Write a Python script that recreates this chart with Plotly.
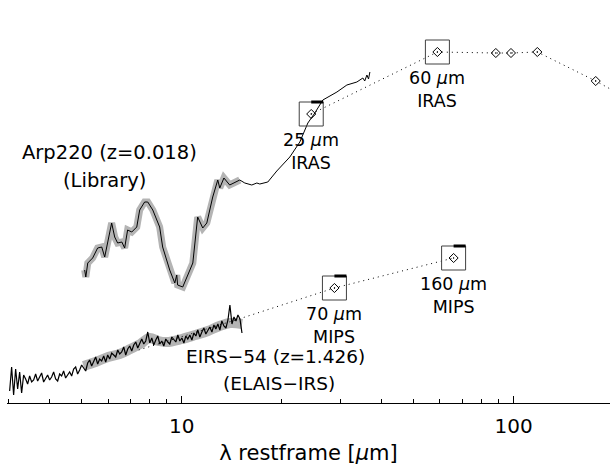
import numpy as np
import plotly.graph_objects as go

# ---------------- data ----------------
# Arp220 library spectrum (rest wavelength in micron, relative log flux)
arp_wl = [5.10, 5.14, 5.21, 5.39, 5.58, 5.74, 5.86, 6.15, 6.28, 6.41, 6.60, 6.73,
          6.87, 7.07, 7.32, 7.47, 7.73, 7.90, 8.18, 8.58, 8.76, 9.20, 9.53, 9.66,
          9.72, 10.07, 10.43, 10.80, 11.17, 11.57, 11.90, 12.40, 12.84, 13.02,
          13.40, 13.95, 14.96, 15.49, 16.26, 16.84, 17.19, 18.17, 19.34, 20.74,
          21.17, 22.69, 23.99, 25.18, 26.62, 29.35, 31.45, 33.71, 35.14, 35.60,
          36.14, 36.55, 36.90]
arp_flux = [133, 126, 140, 145, 155, 156, 146, 180, 166, 160, 161, 155,
            173, 171, 176, 193, 201, 201, 193, 176, 156, 133, 120, 128,
            118, 116, 128, 140, 186, 175, 180, 206, 223, 215,
            225, 218, 223, 220, 218, 220, 219, 221, 232, 243,
            246, 261, 280, 290, 303, 311, 318, 321, 325, 322,
            328, 324, 331]

# EIRS-54 IRS spectrum (rest wavelength in micron, relative log flux)
eirs_wl = [3.030, 3.072, 3.115, 3.159, 3.203, 3.248, 3.293, 3.339, 3.386, 3.433,
           3.481, 3.530, 3.579, 3.629, 3.680, 3.731, 3.783, 3.836, 3.890, 3.944,
           3.999, 4.055, 4.112, 4.169, 4.228, 4.287, 4.347, 4.407, 4.469, 4.532,
           4.595, 4.659, 4.724, 4.790, 4.857, 4.925, 4.994, 5.064, 5.135, 5.207,
           5.279, 5.353, 5.428, 5.504, 5.581, 5.659, 5.738, 5.819, 5.900, 5.983,
           6.067, 6.152, 6.238, 6.325, 6.414, 6.503, 6.594, 6.687, 6.780, 6.875,
           6.971, 7.069, 7.168, 7.268, 7.370, 7.473, 7.578, 7.684, 7.791, 7.900,
           8.011, 8.123, 8.237, 8.352, 8.469, 8.588, 8.708, 8.830, 8.953, 9.079,
           9.206, 9.335, 9.465, 9.598, 9.732, 9.869, 10.01, 10.15, 10.29, 10.43,
           10.58, 10.73, 10.88, 11.03, 11.18, 11.34, 11.50, 11.66, 11.82, 11.99,
           12.15, 12.33, 12.50, 12.67, 12.85, 13.03, 13.21, 13.40, 13.59, 13.78,
           13.97, 14.17, 14.37, 14.57, 14.77, 14.98, 15.19]
eirs_flux = [12, 36, 8, 34, 14, 31, 10, 28, 24, 19,
             27, 21, 23, 29, 22, 26, 30, 21, 25, 28,
             23, 26, 31, 24, 22, 29, 27, 32, 25, 28,
             31, 27, 34, 36, 29, 33, 38, 35, 32, 40,
             43, 37, 41, 46, 39, 44, 42, 47, 41, 48,
             44, 50, 48, 46, 53, 49, 51, 56, 48, 54,
             57, 52, 58, 61, 55, 60, 64, 59, 62, 71,
             60, 65, 58, 63, 67, 59, 62, 57, 64, 61,
             59, 66, 63, 61, 68, 62, 65, 60, 67, 64,
             68, 63, 70, 67, 73, 66, 71, 75, 69, 72,
             76, 71, 78, 74, 79, 73, 82, 77, 75, 83,
             98, 79, 86, 82, 88, 84, 70]

# smoothed envelope of the EIRS-54 spectrum (uncertainty band)
eirs_band_wl = [5.06, 5.5, 6.0, 6.5, 7.0, 7.5, 8.0, 8.5, 9.0, 10.0,
                11.0, 12.0, 13.0, 14.0, 15.2]
eirs_band_flux = [37, 41, 46, 49, 54, 59, 65, 62, 61, 64,
                  68, 72, 77, 80, 79]

# broad-band photometry (rest wavelength, relative log flux)
arp_phot_wl = [24.56, 58.94, 88.4, 98.2, 117.9, 176.8]
arp_phot_flux = [289, 351, 350, 350, 351, 322]
arp_tail_wl = [176.8, 245.6]      # dotted continuation past the plotted range
arp_tail_flux = [322, 296]
arp_boxed = [0, 1]                # IRAS 25 / 60 micron points

eirs_phot_wl = [28.85, 65.95]
eirs_phot_flux = [115, 145]
eirs_trend_wl = [7.42, 15.19]     # dotted continuation through the spectrum
eirs_trend_flux = [53, 85]

band_labels = ["25 <i>μ</i>m<br>IRAS", "60 <i>μ</i>m<br>IRAS",
               "70 <i>μ</i>m<br>MIPS", "160 <i>μ</i>m<br>MIPS"]

x_major = [10, 100]
x_minor = [3, 4, 5, 6, 7, 8, 9, 20, 30, 40, 50, 60, 70, 80, 90, 200]

# ---------------- styling ----------------
FONT = "DejaVu Sans"
GREY_BAND = "#b4b4b4"
BOX_COLOR = "#404040"
BOX_SIZE = 24
DOTTED = "1px,4px"
PX_PER_DEX = 331.6

fig = go.Figure()

# grey bands under the spectra
arp_band = [(w, f) for w, f in zip(arp_wl, arp_flux) if w <= 15.0]
fig.add_trace(go.Scatter(x=[p[0] for p in arp_band], y=[p[1] for p in arp_band],
                         mode="lines", line=dict(color=GREY_BAND, width=7)))
fig.add_trace(go.Scatter(x=eirs_band_wl, y=eirs_band_flux, mode="lines",
                         line=dict(color=GREY_BAND, width=10, shape="spline")))

# dotted SED connections
fig.add_trace(go.Scatter(x=arp_phot_wl + arp_tail_wl[1:],
                         y=arp_phot_flux + arp_tail_flux[1:], mode="lines",
                         line=dict(color="black", width=1, dash=DOTTED)))
fig.add_trace(go.Scatter(x=eirs_trend_wl + eirs_phot_wl,
                         y=eirs_trend_flux + eirs_phot_flux, mode="lines",
                         line=dict(color="black", width=1, dash=DOTTED)))

# spectra
fig.add_trace(go.Scatter(x=arp_wl, y=arp_flux, mode="lines",
                         line=dict(color="black", width=1)))
fig.add_trace(go.Scatter(x=eirs_wl, y=eirs_flux, mode="lines",
                         line=dict(color="black", width=1.2)))

# boxes around the photometric bands
box_wl = [arp_phot_wl[i] for i in arp_boxed] + eirs_phot_wl
box_flux = [arp_phot_flux[i] for i in arp_boxed] + eirs_phot_flux
fig.add_trace(go.Scatter(x=box_wl, y=box_flux, mode="markers",
                         marker=dict(symbol="square-open", size=BOX_SIZE,
                                     color=BOX_COLOR, line=dict(width=1))))

# thick upper-error caps on the 25, 70 and 160 micron boxes
half_dex = (BOX_SIZE / 2) / PX_PER_DEX
for i in (0, 2, 3):
    w, f = box_wl[i], box_flux[i]
    fig.add_trace(go.Scatter(x=[w, w * 10 ** half_dex], y=[f + BOX_SIZE / 2] * 2,
                             mode="lines", line=dict(color="black", width=3)))

# diamonds for every photometric point
fig.add_trace(go.Scatter(x=arp_phot_wl + eirs_phot_wl,
                         y=arp_phot_flux + eirs_phot_flux, mode="markers",
                         marker=dict(symbol="diamond-open-dot", size=7,
                                     color="black", line=dict(width=1))))

# band labels below each box
for w, f, txt in zip(box_wl, box_flux, band_labels):
    fig.add_annotation(x=np.log10(w), y=f, text=txt, showarrow=False,
                       yshift=-37, font=dict(family=FONT, size=17.5, color="black"))

# object labels
obj_labels = [("Arp220 (z=0.018)", 6.05, 251, 19.5), ("(Library)", 5.85, 223, 19.5),
              ("EIRS−54 (z=1.426)", 19.2, 47, 18.5), ("(ELAIS−IRS)", 19.6, 20, 18.5)]
for txt, w, f, size in obj_labels:
    fig.add_annotation(x=np.log10(w), y=f, text=txt, showarrow=False,
                       font=dict(family=FONT, size=size, color="black"))

fig.update_layout(
    width=610, height=465,
    margin=dict(l=7, r=0, t=0, b=62),
    paper_bgcolor="white", plot_bgcolor="white",
    showlegend=False,
    font=dict(family=FONT, color="black"),
    xaxis=dict(type="log", range=[0.4735, 2.2905],
               showline=True, linecolor="black", linewidth=1, mirror=False,
               ticks="inside", ticklen=7, tickcolor="black",
               tickvals=x_major, ticktext=[str(v) for v in x_major],
               tickfont=dict(size=20), ticklabelstandoff=5,
               minor=dict(tickvals=x_minor, ticks="inside", ticklen=4,
                          tickcolor="black", showgrid=False),
               showgrid=False, zeroline=False,
               title=dict(text="λ restframe [<i>μ</i>m]", font=dict(size=21),
                          standoff=12)),
    yaxis=dict(range=[0, 403], visible=False),
)

fig.write_html("out.html")
